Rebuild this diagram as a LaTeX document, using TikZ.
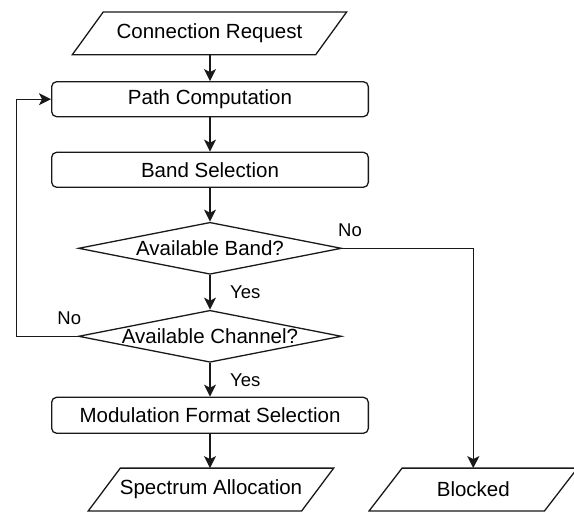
\documentclass[tikz,border=0pt]{standalone}
\usepackage{fontspec}
\setmainfont{Liberation Sans}
\usetikzlibrary{shapes.geometric,arrows.meta,calc}
\begin{document}
\begin{tikzpicture}[x=1pt,y=-1pt,
  every node/.style={font=\fontsize{20.5}{24}\selectfont, text=black},
  box/.style={draw=black!90, line width=1.3pt, rounded corners=5pt, minimum width=316.7pt, minimum height=35pt, inner sep=0pt},
  para/.style={minimum height=42.4pt, inner sep=0pt},
  dia/.style={draw=black!90, line width=1.3pt, shape=diamond, inner sep=0pt, minimum width=263pt, minimum height=52pt},
  conn/.style={line width=1.3pt, draw=black!90, -{Stealth[length=12pt,width=12pt,inset=3pt]}},
  lbl/.style={font=\fontsize{18.5}{22}\selectfont},
  outline/.style={draw=black!90, line width=1.3pt, line join=miter}]
\useasboundingbox (0,0) rectangle (574,512);
\node[para, minimum width=243pt] (cr) at (209.5,33.3) {Connection Request};
\node[box] (pc) at (210,99.2) {Path Computation};
\node[box] (bs) at (210,169.8) {Band Selection};
\node[dia] (ab) at (210,248.3) {};
\node (abt) at (ab.center) {Available Band?};
\node[dia] (ac) at (210,336.3) {};
\node (act) at (ac.center) {Available Channel?};
\node[box, minimum height=36pt] (mf) at (210,415.3) {Modulation Format Selection};
\node[para, minimum width=213pt] (sa) at (211,489.5) {Spectrum Allocation};
\node[para, minimum width=175pt] (bl) at (473.3,489.5) {Blocked};
\foreach \n/\sk in {cr/15.5, sa/16, bl/16.5}
  \draw[outline] ($(\n.north west)+(\sk,0)$) -- ($(\n.north east)+(\sk,0)$) -- ($(\n.south east)-(\sk,0)$) -- ($(\n.south west)-(\sk,0)$) -- cycle;
\coordinate (lp) at (16.7,336.3);
\draw[conn] (pc.north |- cr.south) -- (pc.north);
\draw[conn] (pc) -- (bs);
\draw[conn] (bs) -- (ab.north);
\draw[conn] (ab.south) -- (ac.north);
\draw[conn] (ac.south) -- (mf.north);
\draw[conn] (mf.south) -- (mf.south |- sa.north);
\draw[conn] (ab.east) -| (bl.north);
\draw[conn] (ac.west) -- (lp) |- (pc.west);
\node[lbl] (n1) at (350,230.7) {No};
\node[lbl] (n2) at (69.3,318.3) {No};
\node[lbl] (y1) at (245.3,292.7) {Yes};
\node[lbl] (y2) at (245.3,380) {Yes};
\end{tikzpicture}
\end{document}
